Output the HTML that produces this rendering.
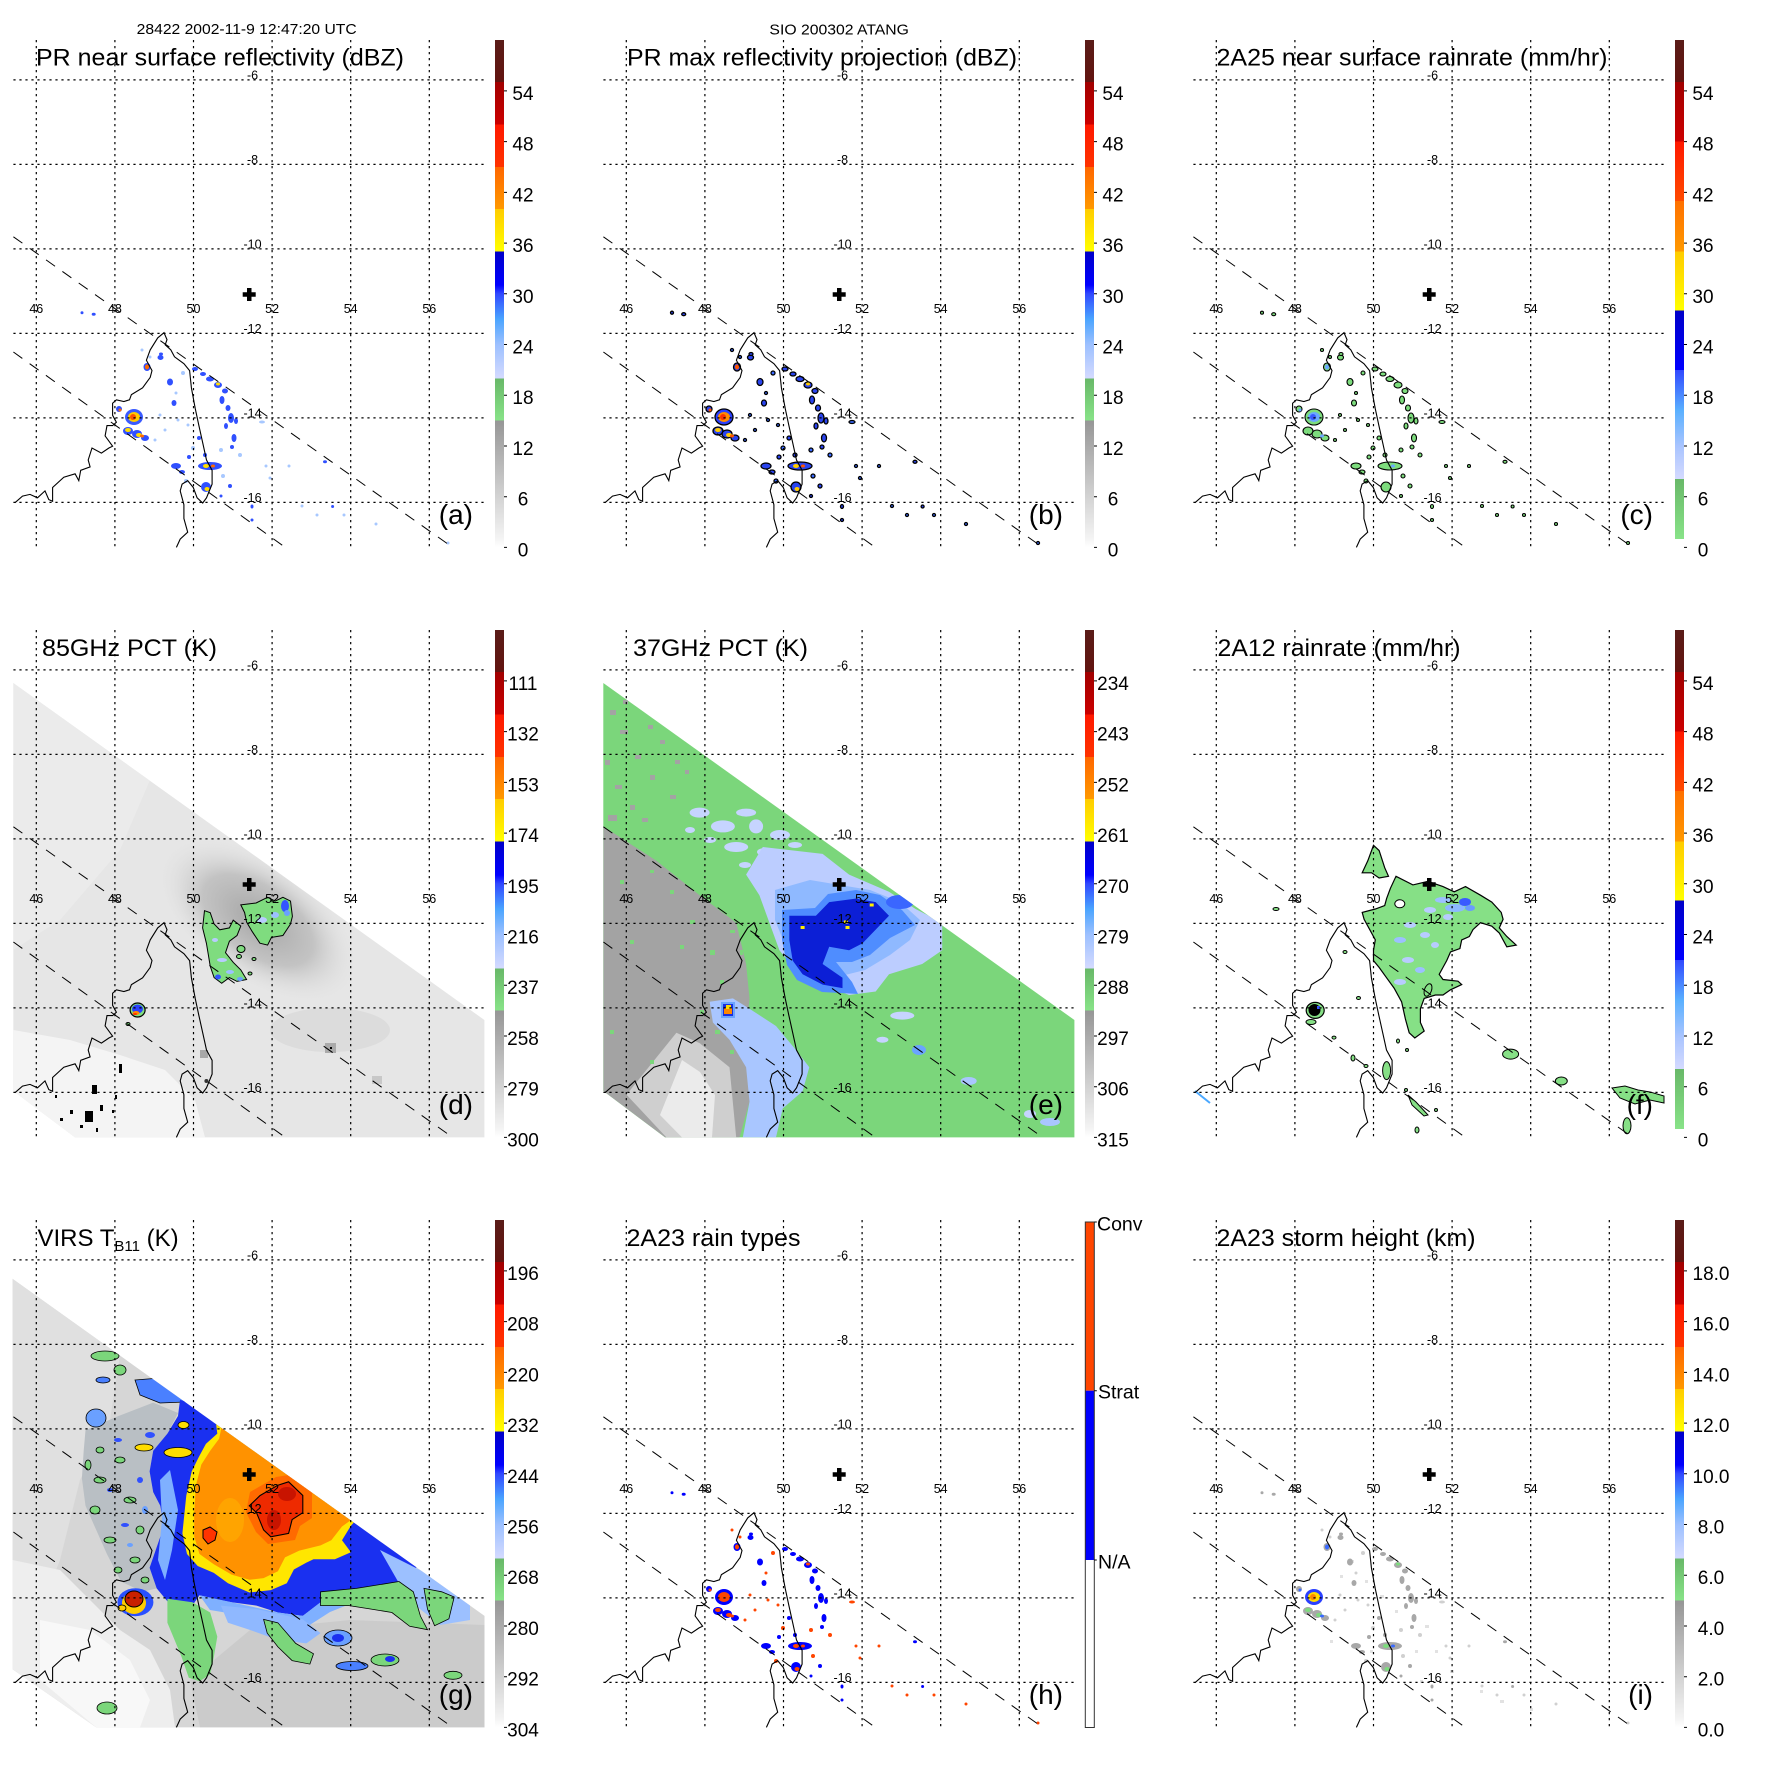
<!DOCTYPE html>
<html><head><meta charset="utf-8">
<style>
html,body{margin:0;padding:0;background:#fff}
svg{display:block}
text{font-family:"Liberation Sans",Arial,Helvetica,sans-serif;fill:#000}
.ll{font-size:12.5px;text-anchor:middle}
.cb{font-size:19px;text-anchor:middle}
.cbl{font-size:19.5px}
.tt{font-size:24px}
.pl{font-size:28px;text-anchor:end}
.hd{font-size:15px;text-anchor:middle}
.mo{fill:var(--mo);stroke:var(--ks,none);stroke-width:var(--kw,0)}
.mm{fill:var(--mm)}
.mi{fill:var(--mi)}
.k1{fill:var(--k1);stroke:var(--ks,none);stroke-width:var(--kw,0)}
.k2{fill:var(--k2)}
.k3{fill:var(--k3);stroke:var(--ks,none);stroke-width:var(--kw,0)}
.k4{fill:var(--k4)}
</style></head><body>
<svg width="1771" height="1771" viewBox="0 0 1771 1771" xmlns="http://www.w3.org/2000/svg">
<defs>
<linearGradient id="gS" x1="0" y1="1" x2="0" y2="0">
<stop offset="0" stop-color="#ffffff"/><stop offset=".017" stop-color="#f4f4f4"/><stop offset=".25" stop-color="#969696"/>
<stop offset=".25" stop-color="#88e388"/><stop offset=".333" stop-color="#68b868"/>
<stop offset=".333" stop-color="#d4daff"/><stop offset=".4" stop-color="#9cc0ff"/><stop offset=".45" stop-color="#4aa4ff"/><stop offset=".5" stop-color="#3048ff"/><stop offset=".517" stop-color="#0000ff"/><stop offset=".583" stop-color="#0000c8"/>
<stop offset=".583" stop-color="#ffff00"/><stop offset=".667" stop-color="#ffcc00"/>
<stop offset=".667" stop-color="#ff9900"/><stop offset=".75" stop-color="#ff6600"/>
<stop offset=".75" stop-color="#ff3300"/><stop offset=".833" stop-color="#ff1800"/>
<stop offset=".833" stop-color="#cc0000"/><stop offset=".917" stop-color="#a00000"/>
<stop offset=".917" stop-color="#621410"/><stop offset="1" stop-color="#5a1c18"/>
</linearGradient>
<linearGradient id="gR" x1="0" y1="1" x2="0" y2="0">
<stop offset="0" stop-color="#ffffff"/><stop offset=".017" stop-color="#ffffff"/>
<stop offset=".017" stop-color="#88e388"/><stop offset=".135" stop-color="#68b868"/>
<stop offset=".135" stop-color="#d4daff"/><stop offset=".2" stop-color="#a8c4ff"/><stop offset=".27" stop-color="#5ab0ff"/><stop offset=".35" stop-color="#3048ff"/>
<stop offset=".35" stop-color="#0000ff"/><stop offset=".467" stop-color="#0000c8"/>
<stop offset=".467" stop-color="#ffff00"/><stop offset=".583" stop-color="#ffcc00"/>
<stop offset=".583" stop-color="#ff9900"/><stop offset=".683" stop-color="#ff7000"/>
<stop offset=".683" stop-color="#ff4a00"/><stop offset=".8" stop-color="#ff1800"/>
<stop offset=".8" stop-color="#cc0000"/><stop offset=".917" stop-color="#a00000"/>
<stop offset=".917" stop-color="#621410"/><stop offset="1" stop-color="#5a1c18"/>
</linearGradient>
<radialGradient id="rgD">
<stop offset="0" stop-color="#a4a4a4"/><stop offset=".55" stop-color="#bdbdbd" stop-opacity=".85"/><stop offset="1" stop-color="#e5e5e5" stop-opacity="0"/>
</radialGradient>
<clipPath id="cT"><polygon points="13.3,93 484.4,430 484.4,547.4 75,547.4 13.3,501"/></clipPath>
<clipPath id="cV"><polygon points="12.5,98.8 484.5,435.9 484.5,547.4 96.2,547.4 12.5,489.2"/></clipPath>
<clipPath id="cM"><rect x="13.4" y="40" width="472.1" height="507.4"/></clipPath>

<g id="cm">
<path d="M15,502.7L22.5,496.1L30,494.4L37.5,497.8L45,490.9L48.8,499.6L52.6,501.3L52.6,487.5L63.8,477.2L75.1,473.8L78.8,480.6L80.7,470.3L90.1,466.9L88.2,460L92,448L101.4,453.1L108.9,448L112.6,446.2L105.1,435.9L107,425.6L112.6,425.6L116.4,422.2L112.6,415.3L112.6,403.2L116.4,399.8L123.9,401.5L129.5,399.8L131.4,394.6L142.6,387.8L150.2,377.4L152,370.6L146.4,360.2L150.2,349.9L157.7,337.9L164,332.7L167,339.6L165.2,344.8L170.8,349.9L174.5,356.8L183.9,363.7L189.6,370.6L191.4,387.8L195.2,408.4L198.9,425.6L202.7,442.8L206.5,460L212.1,470.3L212.1,484.1L206.5,497.8L202.7,503L197.1,497.8L193.3,487.5L187.7,480.6L182.1,484.1L180.2,490.9L183.9,504.7L183.9,518.5L187.7,532.2L180.2,539.1L176.4,547.4" fill="none" stroke="#000" stroke-width="1.1"/>
<path d="M13.4,236.8L450,545.5M13.4,352L285.3,547.4" fill="none" stroke="#000" stroke-width="1" stroke-dasharray="11 9"/>
<path d="M36.3,40V547.4M114.9,40V547.4M193.5,40V547.4M272.1,40V547.4M350.7,40V547.4M429.3,40V547.4M13.4,79.9H485.5M13.4,164.4H485.5M13.4,248.9H485.5M13.4,333.4H485.5M13.4,417.9H485.5M13.4,502.4H485.5" fill="none" stroke="#000" stroke-width="1.2" stroke-dasharray="2.2 3.8"/>
<path d="M242.7,292.3h13v4.5h-13zM247,288h4.5v13h-4.5z" fill="#000"/>
</g>
<path id="tk" d="M504,547.4h3M504,496.7h3M504,446h3M504,395.2h3M504,344.5h3M504,293.8h3M504,243.1h3M504,192.4h3M504,141.6h3M504,90.9h3" stroke="#000" stroke-width="1"/>

<g id="cells">
<ellipse class="mo" cx="134" cy="417" rx="9" ry="8"/><ellipse class="mm" cx="134" cy="417" rx="6" ry="5"/><ellipse class="mi" cx="133" cy="417" rx="3" ry="3"/>
<ellipse class="k1" cx="128" cy="431" rx="5" ry="4"/><ellipse class="k1" cx="137" cy="434" rx="5" ry="4"/><ellipse class="k1" cx="145" cy="438" rx="4" ry="3"/>
<ellipse class="k2" cx="128" cy="430" rx="3" ry="2"/><ellipse class="k2" cx="139" cy="435" rx="3" ry="2"/><ellipse class="k4" cx="142" cy="436" rx="2" ry="1.5"/>
<ellipse class="k1" cx="147" cy="367" rx="3.5" ry="4"/><ellipse class="k4" cx="147" cy="367" rx="2" ry="2.5"/>
<ellipse class="k1" cx="119" cy="409" rx="3" ry="3"/><ellipse class="k4" cx="120" cy="410" rx="1.5" ry="1.5"/>
<ellipse class="k1" cx="160.5" cy="357.5" rx="3" ry="2.5"/><ellipse class="k1" cx="170" cy="382" rx="3" ry="3.5"/><ellipse class="k1" cx="174" cy="403" rx="2.5" ry="3"/>
<ellipse class="k3" cx="183" cy="373" rx="2" ry="2"/><ellipse class="k3" cx="176" cy="393" rx="1.5" ry="1.5"/>
<ellipse class="k1" cx="195" cy="369" rx="3" ry="2"/><ellipse class="k1" cx="203" cy="374" rx="3" ry="2"/><ellipse class="k1" cx="210" cy="379" rx="4" ry="2.5"/><ellipse class="k1" cx="218" cy="385" rx="4" ry="3"/><ellipse class="k2" cx="218" cy="384" rx="2" ry="1.5"/><ellipse class="k1" cx="225" cy="391" rx="3" ry="2.5"/>
<ellipse class="k1" cx="222" cy="400" rx="2.5" ry="4"/><ellipse class="k1" cx="228" cy="408" rx="2.5" ry="3"/><ellipse class="k1" cx="231" cy="418" rx="3" ry="5"/><ellipse class="k1" cx="226" cy="426" rx="2" ry="3"/><ellipse class="k1" cx="236" cy="421" rx="2" ry="3"/>
<ellipse class="k1" cx="210" cy="466" rx="12" ry="4"/><ellipse class="k2" cx="206" cy="466" rx="3" ry="2"/><ellipse class="k4" cx="213" cy="466" rx="2" ry="1.5"/>
<ellipse class="k1" cx="206" cy="487" rx="5" ry="5"/><ellipse class="k2" cx="207" cy="489" rx="2.5" ry="2"/>
<ellipse class="k1" cx="176" cy="466" rx="5" ry="3"/><ellipse class="k1" cx="182" cy="472" rx="3" ry="2"/><ellipse class="k1" cx="189" cy="457" rx="2" ry="2"/><ellipse class="k3" cx="186" cy="481" rx="2" ry="2"/>
<ellipse class="k1" cx="234" cy="438" rx="2.5" ry="4"/><ellipse class="k1" cx="232" cy="447" rx="2" ry="2"/>
<ellipse class="k1" cx="199" cy="438" rx="2" ry="2"/><ellipse class="k3" cx="193" cy="448" rx="2" ry="2"/><ellipse class="k1" cx="205" cy="455" rx="2" ry="2"/><ellipse class="k3" cx="221" cy="450" rx="2" ry="2"/><ellipse class="k3" cx="240" cy="455" rx="2" ry="2"/><ellipse class="k3" cx="223" cy="476" rx="2" ry="2"/><ellipse class="k1" cx="230" cy="486" rx="2" ry="2"/><ellipse class="k1" cx="221" cy="496" rx="1.5" ry="1.5"/>
<ellipse class="k3" cx="178" cy="420" rx="1.5" ry="1.5"/><ellipse class="k3" cx="165" cy="430" rx="1.5" ry="1.5"/><ellipse class="k3" cx="188" cy="425" rx="1.5" ry="1.5"/><ellipse class="k3" cx="155" cy="440" rx="1.5" ry="1.5"/><ellipse class="k3" cx="160" cy="415" rx="1.5" ry="1.5"/>
<ellipse class="k1" cx="82" cy="312.7" rx="1.5" ry="1.5"/><ellipse class="k1" cx="93.7" cy="314.2" rx="2" ry="1.5"/>
<ellipse class="k1" cx="252" cy="506.5" rx="1.5" ry="2"/><ellipse class="k1" cx="325" cy="461.8" rx="2" ry="1.5"/><ellipse class="k1" cx="332.6" cy="506.5" rx="1.5" ry="1.5"/><ellipse class="k1" cx="252" cy="520" rx="1.5" ry="1.5"/>
<ellipse class="k3" cx="302" cy="506" rx="1.5" ry="1.5"/><ellipse class="k3" cx="317" cy="515" rx="1.5" ry="1.5"/><ellipse class="k3" cx="344" cy="515" rx="1.5" ry="1.5"/><ellipse class="k3" cx="376" cy="524" rx="1.5" ry="1.5"/><ellipse class="k3" cx="266" cy="466" rx="1.5" ry="1.5"/><ellipse class="k3" cx="270" cy="478" rx="1.5" ry="1.5"/><ellipse class="k3" cx="289" cy="466" rx="1.5" ry="1.5"/><ellipse class="k3" cx="262" cy="422" rx="3" ry="1.5"/><ellipse class="k3" cx="142" cy="350" rx="1.5" ry="1.5"/><ellipse class="k3" cx="150" cy="357" rx="1.5" ry="1.5"/><ellipse class="k1" cx="161" cy="354" rx="2" ry="1.5"/><ellipse class="k3" cx="448" cy="543" rx="1.5" ry="1.5"/>
</g>
</defs>

<!-- headers -->
<text class="hd" x="246.7" y="34" textLength="220" lengthAdjust="spacingAndGlyphs">28422 2002-11-9 12:47:20 UTC</text>
<text class="hd" x="839.2" y="34.5" textLength="139.5" lengthAdjust="spacingAndGlyphs">SIO 200302 ATANG</text>

<!-- ===== (a) ===== -->
<g transform="translate(0,0)">
<use href="#cells" style="--mo:#3a5aff;--mm:#ffcc00;--mi:#ff5500;--k1:#3050ff;--k2:#ffdd00;--k3:#a8c8ff;--k4:#ff6a00"/>
<use href="#cm"/>
<g class="ll"><text x="252.5" y="79.5">-6</text><text x="252.5" y="164">-8</text><text x="252.5" y="248.5">-10</text><text x="252.5" y="333">-12</text><text x="252.5" y="417.5">-14</text><text x="252.5" y="502">-16</text><text x="36.3" y="313">46</text><text x="114.9" y="313">48</text><text x="193.5" y="313">50</text><text x="272.1" y="313">52</text><text x="350.7" y="313">54</text><text x="429.3" y="313">56</text></g>
<rect x="495" y="40" width="9" height="507.4" fill="url(#gS)"/><use href="#tk"/>
<g class="cb"><text x="523" y="556.4">0</text><text x="523" y="505.7">6</text><text x="523" y="455">12</text><text x="523" y="404.2">18</text><text x="523" y="353.5">24</text><text x="523" y="302.8">30</text><text x="523" y="252.1">36</text><text x="523" y="201.4">42</text><text x="523" y="150.6">48</text><text x="523" y="99.9">54</text></g>
<text class="tt" x="36" y="65.5" textLength="368" lengthAdjust="spacingAndGlyphs">PR near surface reflectivity (dBZ)</text>
<text class="pl" x="473" y="524">(a)</text>
</g>

<!-- ===== (b) ===== -->
<g transform="translate(590,0)">
<use href="#cells" style="--mo:#2a40ff;--mm:#ff8c00;--mi:#ff3300;--k1:#2a44ee;--k2:#ffcc00;--k3:#3a6aff;--k4:#ff5500;--ks:#000;--kw:1.3px"/>
<use href="#cm"/>
<g class="ll"><text x="252.5" y="79.5">-6</text><text x="252.5" y="164">-8</text><text x="252.5" y="248.5">-10</text><text x="252.5" y="333">-12</text><text x="252.5" y="417.5">-14</text><text x="252.5" y="502">-16</text><text x="36.3" y="313">46</text><text x="114.9" y="313">48</text><text x="193.5" y="313">50</text><text x="272.1" y="313">52</text><text x="350.7" y="313">54</text><text x="429.3" y="313">56</text></g>
<rect x="495" y="40" width="9" height="507.4" fill="url(#gS)"/><use href="#tk"/>
<g class="cb"><text x="523" y="556.4">0</text><text x="523" y="505.7">6</text><text x="523" y="455">12</text><text x="523" y="404.2">18</text><text x="523" y="353.5">24</text><text x="523" y="302.8">30</text><text x="523" y="252.1">36</text><text x="523" y="201.4">42</text><text x="523" y="150.6">48</text><text x="523" y="99.9">54</text></g>
<text class="tt" x="37" y="65.5" textLength="390" lengthAdjust="spacingAndGlyphs">PR max reflectivity projection (dBZ)</text>
<text class="pl" x="473" y="524">(b)</text>
</g>

<!-- ===== (c) ===== -->
<g transform="translate(1180,0)">
<use href="#cells" style="--mo:#7ddc7d;--mm:#6aa8ff;--mi:#3a5aff;--k1:#7ddc7d;--k2:#7ddc7d;--k3:#7ddc7d;--k4:#6aa8ff;--ks:#000;--kw:1.1px"/>
<use href="#cm"/>
<g class="ll"><text x="252.5" y="79.5">-6</text><text x="252.5" y="164">-8</text><text x="252.5" y="248.5">-10</text><text x="252.5" y="333">-12</text><text x="252.5" y="417.5">-14</text><text x="252.5" y="502">-16</text><text x="36.3" y="313">46</text><text x="114.9" y="313">48</text><text x="193.5" y="313">50</text><text x="272.1" y="313">52</text><text x="350.7" y="313">54</text><text x="429.3" y="313">56</text></g>
<rect x="495" y="40" width="9" height="507.4" fill="url(#gR)"/><use href="#tk"/>
<g class="cb"><text x="523" y="556.4">0</text><text x="523" y="505.7">6</text><text x="523" y="455">12</text><text x="523" y="404.2">18</text><text x="523" y="353.5">24</text><text x="523" y="302.8">30</text><text x="523" y="252.1">36</text><text x="523" y="201.4">42</text><text x="523" y="150.6">48</text><text x="523" y="99.9">54</text></g>
<text class="tt" x="36.5" y="65.5" textLength="391" lengthAdjust="spacingAndGlyphs">2A25 near surface rainrate (mm/hr)</text>
<text class="pl" x="473" y="524">(c)</text>
</g>

<!-- ===== (d) ===== -->
<g transform="translate(0,590)">
<g clip-path="url(#cT)">
<rect x="0" y="0" width="500" height="560" fill="#e6e6e6"/>
<polygon points="13.3,93 150,190 120,260 60,330 13.3,360" fill="#ebebeb"/>
<ellipse cx="258" cy="330" rx="115" ry="62" fill="url(#rgD)" transform="rotate(35 258 330)"/>
<ellipse cx="330" cy="440" rx="60" ry="22" fill="#dcdcdc"/>
<polygon points="13.4,440 70,450 120,465 165,480 195,510 205,547.4 13.4,547.4" fill="#f4f4f4"/>
<rect x="325" y="453" width="11" height="10" fill="#aaa"/><rect x="330" y="457" width="2" height="2" fill="#000"/>
<rect x="372" y="486" width="10" height="8" fill="#c8c8c8"/>
<rect x="200" y="460" width="8" height="8" fill="#a8a8a8"/><ellipse cx="206.4" cy="491" rx="2" ry="2" fill="#333"/>
<rect x="119" y="474" width="3" height="9"/><rect x="92" y="495" width="5" height="9"/><rect x="85" y="521" width="8" height="11"/><rect x="100" y="515" width="3" height="6"/><rect x="70" y="520" width="3" height="4"/><rect x="55" y="505" width="2" height="3"/><rect x="60" y="528" width="3" height="3"/><rect x="115" y="505" width="2" height="4"/><rect x="112" y="520" width="2" height="3"/><rect x="80" y="535" width="3" height="3"/><rect x="96" y="538" width="2" height="4"/>
<polygon points="204.5,320.7 210.2,322.6 214.1,334 219.8,339.8 229.4,337.9 233.2,330.2 240.8,336 237,345.5 229.4,351.2 225.5,362.7 233.2,372.3 240.8,379.9 246.6,389.5 237,391.4 229.4,387.6 221.7,393.3 214.1,387.6 210.2,376.1 208.3,364.6 206.4,353.2 202.6,337.9" fill="#7fdc7f" stroke="#000" stroke-width="1"/>
<polygon points="240.8,314.9 256.1,313 267.6,307.3 275.2,311.1 282.9,307.3 290.5,311.1 292.4,326.4 290.5,334 282.9,345.5 271.4,347.4 267.6,355.1 259.9,353.2 252.3,341.7 246.6,332.1 244.6,322.6" fill="#7fdc7f" stroke="#000" stroke-width="1"/>
<ellipse cx="285" cy="316" rx="4" ry="6" fill="#3355ff"/><ellipse cx="287" cy="323" rx="3" ry="3" fill="#6aa0ff"/><ellipse cx="262" cy="330" rx="5" ry="3" fill="#b8ccff"/><ellipse cx="275" cy="325" rx="4" ry="3" fill="#9cc0ff"/>
<ellipse cx="218" cy="387" rx="3" ry="2.5" fill="#3355ff"/><ellipse cx="222" cy="370" rx="5" ry="2" fill="#b8ccff"/><ellipse cx="230" cy="382" rx="4" ry="2" fill="#9cc0ff"/><ellipse cx="215" cy="350" rx="3" ry="2" fill="#b8ccff"/><ellipse cx="240" cy="389" rx="3" ry="2" fill="#6aa0ff"/>
<ellipse cx="241" cy="359" rx="4" ry="3.5" fill="#7fdc7f" stroke="#000"/><ellipse cx="239" cy="366.5" rx="2.5" ry="2" fill="#7fdc7f" stroke="#000"/><ellipse cx="254" cy="369" rx="2" ry="1.5" fill="#7fdc7f" stroke="#000"/><ellipse cx="250" cy="383.5" rx="2" ry="1.5" fill="#7fdc7f" stroke="#000"/>
<ellipse cx="137.6" cy="420" rx="7.5" ry="7" fill="#7fdc7f" stroke="#000" stroke-width="1.2"/><ellipse cx="137.5" cy="419" rx="5.5" ry="4.5" fill="#2a40ff"/><ellipse cx="136" cy="423" rx="3.5" ry="2" fill="#ff8800"/><ellipse cx="135" cy="424" rx="2" ry="1" fill="#ff3300"/>
<ellipse cx="128" cy="434" rx="2" ry="1.5" fill="#7fdc7f" stroke="#000"/>
</g>
<use href="#cm"/>
<g class="ll"><text x="252.5" y="79.5">-6</text><text x="252.5" y="164">-8</text><text x="252.5" y="248.5">-10</text><text x="252.5" y="333">-12</text><text x="252.5" y="417.5">-14</text><text x="252.5" y="502">-16</text><text x="36.3" y="313">46</text><text x="114.9" y="313">48</text><text x="193.5" y="313">50</text><text x="272.1" y="313">52</text><text x="350.7" y="313">54</text><text x="429.3" y="313">56</text></g>
<rect x="495" y="40" width="9" height="507.4" fill="url(#gS)"/><use href="#tk"/>
<g class="cb"><text x="523" y="556.4">300</text><text x="523" y="505.7">279</text><text x="523" y="455">258</text><text x="523" y="404.2">237</text><text x="523" y="353.5">216</text><text x="523" y="302.8">195</text><text x="523" y="252.1">174</text><text x="523" y="201.4">153</text><text x="523" y="150.6">132</text><text x="523" y="99.9">111</text></g>
<text class="tt" x="42" y="66" textLength="175" lengthAdjust="spacingAndGlyphs">85GHz PCT (K)</text>
<text class="pl" x="473" y="524">(d)</text>
</g>

<!-- ===== (e) ===== -->
<g transform="translate(590,590)">
<g clip-path="url(#cT)">
<rect x="0" y="0" width="500" height="560" fill="#7bd67b"/>
<rect x="20" y="120" width="6" height="5" fill="#a3a3a3"/><rect x="30" y="140" width="8" height="4" fill="#a3a3a3"/><rect x="15" y="170" width="5" height="5" fill="#a3a3a3"/><rect x="45" y="165" width="6" height="4" fill="#a3a3a3"/><rect x="25" y="195" width="7" height="4" fill="#a3a3a3"/><rect x="60" y="185" width="5" height="5" fill="#a3a3a3"/><rect x="80" y="205" width="6" height="4" fill="#a3a3a3"/><rect x="40" y="215" width="5" height="5" fill="#a3a3a3"/><rect x="95" y="180" width="4" height="4" fill="#a3a3a3"/><rect x="70" y="150" width="5" height="4" fill="#a3a3a3"/><rect x="18" y="225" width="9" height="6" fill="#a3a3a3"/><rect x="52" y="228" width="6" height="4" fill="#a3a3a3"/><rect x="33" y="110" width="5" height="4" fill="#a3a3a3"/><rect x="58" y="135" width="5" height="4" fill="#a3a3a3"/><rect x="85" y="170" width="5" height="4" fill="#a3a3a3"/>
<polygon points="13.3,236.4 66.4,270.8 109.6,305.2 146.2,332.7 156.1,374 159.5,408.4 156.1,442.8 166.1,477.2 159.5,511.6 149.5,547.4 75,547.4 13.3,501" fill="#a3a3a3"/>
<polygon points="36.5,504.7 86.4,442.8 109.6,453.1 139.5,477.2 146.2,547.4 76.4,547.4" fill="#cfcfcf"/>
<polygon points="70,525 92,470 110,482 125,505 122,547.4 92,547.4" fill="#ebebeb"/>
<rect x="100" y="330" width="5" height="4" fill="#7bd67b"/><rect x="80" y="300" width="4" height="4" fill="#7bd67b"/><rect x="120" y="360" width="5" height="5" fill="#7bd67b"/><rect x="60" y="280" width="4" height="3" fill="#7bd67b"/><rect x="130" y="390" width="4" height="4" fill="#7bd67b"/><rect x="140" y="340" width="5" height="3" fill="#7bd67b"/><rect x="90" y="355" width="4" height="4" fill="#7bd67b"/><rect x="40" y="350" width="4" height="4" fill="#7bd67b"/><rect x="110" y="420" width="4" height="4" fill="#7bd67b"/><rect x="150" y="360" width="3" height="5" fill="#7bd67b"/><rect x="30" y="290" width="4" height="4" fill="#7bd67b"/><rect x="125" y="440" width="5" height="4" fill="#7bd67b"/><rect x="140" y="460" width="4" height="4" fill="#7bd67b"/><rect x="60" y="470" width="4" height="4" fill="#7bd67b"/><rect x="20" y="440" width="4" height="4" fill="#7bd67b"/>
<polygon points="119.6,411.8 142.9,408.4 159.5,418.7 186,436 206,460 219.3,477.2 212.6,501.3 192.7,518.5 186,547.4 152.8,547.4 159.5,511.6 156.1,477.2 139.5,449.7 122.9,432.5" fill="#a9c6ff"/>
<ellipse cx="109.6" cy="222.6" rx="10" ry="5" fill="#c6d4ff"/><ellipse cx="132.9" cy="236.4" rx="12" ry="6" fill="#c6d4ff"/><ellipse cx="156.1" cy="222.6" rx="10" ry="4" fill="#c6d4ff"/><ellipse cx="146.2" cy="257" rx="12" ry="5" fill="#c6d4ff"/><ellipse cx="166.1" cy="236.4" rx="7" ry="7" fill="#c6d4ff"/><ellipse cx="190" cy="245" rx="10" ry="5" fill="#c6d4ff"/><ellipse cx="120" cy="250" rx="6" ry="3" fill="#c6d4ff"/><ellipse cx="100" cy="240" rx="5" ry="3" fill="#c6d4ff"/><ellipse cx="175" cy="262" rx="8" ry="4" fill="#c6d4ff"/><ellipse cx="155" cy="275" rx="6" ry="3" fill="#c6d4ff"/><ellipse cx="205" cy="255" rx="7" ry="3" fill="#c6d4ff"/>
<polygon points="172.8,257 232.6,263.9 259.1,284.6 299,301.8 325.6,319 352.2,332.7 352.2,360.2 332.2,374 299,384.3 285.7,401.5 259.1,405 232.6,394.6 206,380.9 189.4,360.2 179.4,332.7 169.4,305.2 156.1,284.6" fill="#bccdff"/>
<polygon points="185,300 220,290 250,295 280,300 310,312 330,330 320,350 300,365 275,380 255,385 240,375 215,370 195,355 185,330" fill="#8fb9ff"/>
<polygon points="192,320 225,318 238,304 266,300 290,305 312,320 325,335 300,348 280,365 262,372 246,372 262,392 268,404 232,402 207,390 197,375 192,350" fill="#4f8dff"/>
<polygon points="199.3,325.8 225.9,325.8 239.2,312.1 265.8,308.6 285.7,312.1 299,325.8 285.7,339.6 272.4,353.4 259.1,360.2 239.2,356.8 232.6,374 252.5,387.8 252.5,398.1 232.6,394.6 212.6,384.3 202.7,370.6 199.3,349.9" fill="#0c1fd6"/>
<ellipse cx="310" cy="312" rx="14" ry="7" fill="#3a66ff"/>
<rect x="210.6" y="336" width="4" height="3" fill="#ffee00"/><rect x="253.8" y="330.5" width="4" height="3" fill="#ffee00"/><rect x="255.5" y="336" width="4" height="3" fill="#ffee00"/><rect x="279.7" y="313.5" width="4" height="3" fill="#ffee00"/>
<rect x="131" y="412" width="14" height="16" fill="#6aa4ff"/><rect x="133" y="414" width="10" height="12" fill="#1a2fe0"/><rect x="134" y="418" width="8" height="6" fill="#ff8800"/><rect x="136" y="415" width="5" height="4" fill="#ffdd00"/>
<ellipse cx="329" cy="460" rx="7" ry="5" fill="#6aa4ff"/><ellipse cx="378.7" cy="491" rx="8" ry="4" fill="#a9c6ff"/><ellipse cx="292.4" cy="449.7" rx="6" ry="3" fill="#c6d4ff"/><ellipse cx="312.3" cy="425.6" rx="12" ry="4" fill="#c6d4ff"/><ellipse cx="460" cy="532" rx="10" ry="4" fill="#a9c6ff"/><ellipse cx="440" cy="524" rx="6" ry="4" fill="#c6d4ff"/>
</g>
<use href="#cm"/>
<g class="ll"><text x="252.5" y="79.5">-6</text><text x="252.5" y="164">-8</text><text x="252.5" y="248.5">-10</text><text x="252.5" y="333">-12</text><text x="252.5" y="417.5">-14</text><text x="252.5" y="502">-16</text><text x="36.3" y="313">46</text><text x="114.9" y="313">48</text><text x="193.5" y="313">50</text><text x="272.1" y="313">52</text><text x="350.7" y="313">54</text><text x="429.3" y="313">56</text></g>
<rect x="495" y="40" width="9" height="507.4" fill="url(#gS)"/><use href="#tk"/>
<g class="cb"><text x="523" y="556.4">315</text><text x="523" y="505.7">306</text><text x="523" y="455">297</text><text x="523" y="404.2">288</text><text x="523" y="353.5">279</text><text x="523" y="302.8">270</text><text x="523" y="252.1">261</text><text x="523" y="201.4">252</text><text x="523" y="150.6">243</text><text x="523" y="99.9">234</text></g>
<text class="tt" x="43" y="66" textLength="175" lengthAdjust="spacingAndGlyphs">37GHz PCT (K)</text>
<text class="pl" x="473" y="524">(e)</text>
</g>

<!-- ===== (f) ===== -->
<g transform="translate(1180,590)">
<g clip-path="url(#cM)">
<polygon points="216,286.3 232.9,294.9 247.9,291.4 263,296.6 274.2,301.8 285.5,296.6 300.5,305.2 311.8,312.1 321.2,322.4 323.1,329.3 319.3,337.9 326.8,346.5 336.2,355.1 326.8,356.8 319.3,343 311.8,336.2 300.5,332.7 293,339.6 289.3,346.5 281.7,349.9 279.9,358.5 270.5,362 266.7,370.6 263,377.4 259.2,384.3 263,389.5 278,391.2 281.7,394.6 270.5,399.8 263,405 255.4,405 244.2,408.4 240.4,418.7 240.4,432.5 244.2,441.1 234.8,448 229.2,442.8 225.4,429 221.6,411.8 214.1,398.1 206.6,387.8 199.1,377.4 193.5,370.6 193.5,360.2 195.3,349.9 184.1,329.3 182.2,322.4 195.3,319 204.7,315.5 206.6,308.6 210.4,298.3" fill="#86e086" stroke="#000" stroke-width="1.2"/>
<polygon points="193.5,255.3 199.1,260.5 204.7,277.7 208.5,286.3 199.1,288 191.6,282.8 182.2,282.8 187.8,270.8 191.6,260.5" fill="#86e086" stroke="#000" stroke-width="1.2"/>
<ellipse cx="263" cy="310" rx="8" ry="3" fill="#9cc0ff"/><ellipse cx="275" cy="318" rx="10" ry="4" fill="#8cb8ff"/><ellipse cx="285" cy="312" rx="6" ry="4" fill="#3a5aff"/><ellipse cx="290" cy="318" rx="5" ry="3" fill="#6a9aff"/><ellipse cx="250" cy="320" rx="6" ry="3" fill="#b8ccff"/><ellipse cx="230" cy="335" rx="6" ry="3" fill="#b8ccff"/><ellipse cx="220" cy="350" rx="6" ry="3" fill="#9cc0ff"/><ellipse cx="245" cy="345" rx="5" ry="3" fill="#b8ccff"/><ellipse cx="268" cy="327" rx="5" ry="3" fill="#b8ccff"/><ellipse cx="228" cy="370" rx="6" ry="3" fill="#b8ccff"/><ellipse cx="240" cy="380" rx="5" ry="3" fill="#9cc0ff"/><ellipse cx="220" cy="392" rx="6" ry="3" fill="#b8ccff"/><ellipse cx="255" cy="355" rx="4" ry="3" fill="#b8ccff"/>
<ellipse cx="219.8" cy="313.8" rx="5" ry="4" fill="#fff" stroke="#000"/>
<ellipse cx="248" cy="400" rx="3.5" ry="6.5" fill="none" stroke="#000" transform="rotate(20 248 400)"/>
<ellipse cx="135.2" cy="420.4" rx="9" ry="8" fill="#86e086" stroke="#000" stroke-width="1.2"/><ellipse cx="134.5" cy="420" rx="6" ry="6" fill="#000"/><rect x="137" y="416" width="3" height="3" fill="#3a5aff"/>
<ellipse cx="131" cy="432" rx="5" ry="2.5" fill="#86e086" stroke="#000"/>
<ellipse cx="330.6" cy="464.1" rx="8" ry="5" fill="#86e086" stroke="#000"/><ellipse cx="381.3" cy="491" rx="6" ry="4" fill="#86e086" stroke="#000"/>
<polygon points="432,498 445,496 458,500 470,502 484,506 484,513 470,510 455,514 440,508" fill="#86e086" stroke="#000"/>
<ellipse cx="447" cy="535.7" rx="4" ry="8" fill="#86e086" stroke="#000"/>
<ellipse cx="206.6" cy="480.6" rx="4" ry="9" fill="#86e086" stroke="#000"/>
<polygon points="228,505 236,512 248,525 244,526 232,515" fill="#86e086" stroke="#000"/>
<ellipse cx="165" cy="362" rx="2" ry="1.5" fill="#86e086" stroke="#000"/><ellipse cx="178.5" cy="408" rx="2" ry="1.5" fill="#86e086" stroke="#000"/><ellipse cx="154" cy="447.6" rx="2" ry="1.5" fill="#86e086" stroke="#000"/><ellipse cx="173" cy="468" rx="2" ry="3" fill="#86e086" stroke="#000"/><ellipse cx="186" cy="476" rx="2" ry="1.5" fill="#86e086" stroke="#000"/><ellipse cx="218" cy="451" rx="1.5" ry="2" fill="#86e086" stroke="#000"/><ellipse cx="227" cy="460" rx="1.5" ry="1.5" fill="#86e086" stroke="#000"/><ellipse cx="237" cy="540" rx="2" ry="3" fill="#86e086" stroke="#000"/><ellipse cx="226" cy="500" rx="1.5" ry="1.5" fill="#86e086" stroke="#000"/><ellipse cx="256" cy="520" rx="1.5" ry="1.5" fill="#86e086" stroke="#000"/><ellipse cx="96" cy="319" rx="3" ry="1.5" fill="#86e086" stroke="#000"/>
<line x1="15" y1="501" x2="30" y2="513" stroke="#4aa8ff" stroke-width="2"/>
</g>
<use href="#cm"/>
<g class="ll"><text x="252.5" y="79.5">-6</text><text x="252.5" y="164">-8</text><text x="252.5" y="248.5">-10</text><text x="252.5" y="333">-12</text><text x="252.5" y="417.5">-14</text><text x="252.5" y="502">-16</text><text x="36.3" y="313">46</text><text x="114.9" y="313">48</text><text x="193.5" y="313">50</text><text x="272.1" y="313">52</text><text x="350.7" y="313">54</text><text x="429.3" y="313">56</text></g>
<rect x="495" y="40" width="9" height="507.4" fill="url(#gR)"/><use href="#tk"/>
<g class="cb"><text x="523" y="556.4">0</text><text x="523" y="505.7">6</text><text x="523" y="455">12</text><text x="523" y="404.2">18</text><text x="523" y="353.5">24</text><text x="523" y="302.8">30</text><text x="523" y="252.1">36</text><text x="523" y="201.4">42</text><text x="523" y="150.6">48</text><text x="523" y="99.9">54</text></g>
<text class="tt" x="37.5" y="66" textLength="243" lengthAdjust="spacingAndGlyphs">2A12 rainrate (mm/hr)</text>
<text class="pl" x="473" y="524">(f)</text>
</g>

<!-- ===== (g) ===== -->
<g transform="translate(0,1180)">
<g clip-path="url(#cV)">
<rect x="0" y="0" width="500" height="560" fill="#d6d6d6"/>
<polygon points="12.5,98.8 120,175 110,240 80,300 60,380 40,430 12.5,440" fill="#e0e0e0"/>
<polygon points="12.5,380 60,390 90,420 120,450 150,470 170,510 175,547.4 96.2,547.4 12.5,489.2" fill="#eeeeee"/>
<polygon points="40,440 90,450 130,480 150,520 140,547.4 96.2,547.4 40,500" fill="#f8f8f8"/>
<polygon points="250,450 350,440 484.5,445 484.5,547.4 200,547.4 190,500" fill="#cbcbcb"/>
<polygon points="85.5,250.2 117.6,236.4 153.2,222.6 178.1,233 167.4,253.6 153.2,270.8 149.6,291.4 153.2,312.1 160.3,325.8 163.9,346.5 156.7,367.1 149.6,387.8 156.7,408.4 142.5,411.8 121.1,401.5 106.9,374 96.2,349.9 85.5,325.8 81.9,298.3 83.7,270.8" fill="#b9bfc4"/>
<ellipse cx="100" cy="300" rx="6" ry="3" fill="#7bd67b" stroke="#000" stroke-width=".8"/><ellipse cx="95" cy="330" rx="5" ry="4" fill="#7bd67b" stroke="#000" stroke-width=".8"/><ellipse cx="110" cy="360" rx="6" ry="3" fill="#7bd67b" stroke="#000" stroke-width=".8"/><ellipse cx="120" cy="280" rx="5" ry="3" fill="#7bd67b" stroke="#000" stroke-width=".8"/><ellipse cx="130" cy="320" rx="6" ry="3" fill="#7bd67b" stroke="#000" stroke-width=".8"/><ellipse cx="100" cy="270" rx="4" ry="3" fill="#7bd67b" stroke="#000" stroke-width=".8"/><ellipse cx="140" cy="350" rx="4" ry="4" fill="#7bd67b" stroke="#000" stroke-width=".8"/><ellipse cx="135" cy="380" rx="5" ry="3" fill="#7bd67b" stroke="#000" stroke-width=".8"/><ellipse cx="88" cy="285" rx="3" ry="5" fill="#7bd67b" stroke="#000" stroke-width=".8"/><ellipse cx="118" cy="390" rx="4" ry="3" fill="#7bd67b" stroke="#000" stroke-width=".8"/><ellipse cx="145" cy="400" rx="4" ry="3" fill="#7bd67b" stroke="#000" stroke-width=".8"/>
<ellipse cx="110" cy="310" rx="3" ry="2" fill="#3050ff"/><ellipse cx="125" cy="345" rx="4" ry="2" fill="#3050ff"/><ellipse cx="140" cy="300" rx="3" ry="3" fill="#3050ff"/><ellipse cx="118" cy="260" rx="4" ry="2" fill="#3050ff"/><ellipse cx="145" cy="330" rx="3" ry="4" fill="#6aa0ff"/><ellipse cx="130" cy="365" rx="3" ry="2" fill="#6aa0ff"/><ellipse cx="150" cy="255" rx="5" ry="3" fill="#3050ff"/>
<ellipse cx="105" cy="176" rx="14" ry="5" fill="#7bd67b" stroke="#000" stroke-width=".8"/><ellipse cx="120" cy="190" rx="6" ry="5" fill="#7bd67b" stroke="#000" stroke-width=".8"/><ellipse cx="103" cy="200" rx="7" ry="3" fill="#4a80ff" stroke="#000" stroke-width=".8"/><ellipse cx="96" cy="238" rx="10" ry="9" fill="#6aa0ff" stroke="#000" stroke-width=".8"/>
<polygon points="135,200 160,198 189,210 185,222 160,223 140,215" fill="#4a80ff" stroke="#000" stroke-width=".8"/>
<polygon points="180,220 230,230 370,330 430,380 409.7,391.2 399,401.5 356.3,408.4 320.6,422.2 302.8,435.9 277.9,432.5 256.5,425.6 231.6,422.2 213.8,418.7 199.5,415.3 185.2,435.9 171,425.6 156.7,408.4 149.6,387.8 156.7,367.1 163.9,346.5 160.3,325.8 153.2,312.1 149.6,291.4 153.2,270.8 167.4,253.6 178,236" fill="#1a30f0"/>
<polygon points="160,300 170,290 178,330 172,370 165,400 158,380 162,340" fill="#7fb0ff"/>
<polygon points="199.5,415.3 231.6,422.2 277.9,432.5 302.8,435.9 320.6,422.2 356.3,408.4 399,401.5 400,412 360,420 330,432 305,448 270,445 240,435 210,430" fill="#7fb0ff"/>
<polygon points="380,370 440,400 470,415 470,440 440,445 415,425 400,405" fill="#9cc0ff"/>
<polygon points="220.9,425.6 256.5,429 302.8,439.4 320.6,453.1 306.4,463.4 277.9,460 249.4,449.7 228,442.8" fill="#8fb8ff"/>
<polygon points="167.4,418.7 192.4,422.2 210.2,432.5 217.3,456.6 213.8,477.2 210.2,494.4 199.5,501.3 188.8,497.8 181.7,477.2 174.6,460 167.4,442.8" fill="#7bd67b"/>
<polygon points="320.6,411.8 356.3,408.4 399,401.5 413.3,411.8 420.4,436 427.5,449.7 409.7,446.3 391.9,432.5 370.5,429 349.1,425.6 320.6,425.6" fill="#7bd67b" stroke="#000" stroke-width=".8"/>
<polygon points="424,408.4 441.7,411.8 454.2,417 448.9,438.8 434.6,445.7 427.5,429" fill="#7bd67b" stroke="#000" stroke-width=".8"/>
<polygon points="263.6,439.4 277.9,442.8 295.7,463.4 313.5,473.8 309.9,484.1 292.1,480.6 277.9,466.9 267.2,453.1" fill="#7bd67b" stroke="#000" stroke-width=".8"/>
<ellipse cx="338" cy="458" rx="14" ry="8" fill="#6aa0ff" stroke="#000" stroke-width=".8"/><ellipse cx="338" cy="458" rx="6" ry="4" fill="#1a30f0"/>
<ellipse cx="385" cy="480" rx="14" ry="6" fill="#7bd67b" stroke="#000" stroke-width=".8"/><ellipse cx="390" cy="479" rx="5" ry="3" fill="#1a30f0"/>
<ellipse cx="352" cy="486" rx="16" ry="4.5" fill="#4a80ff" stroke="#000" stroke-width=".8"/>
<ellipse cx="453" cy="495.3" rx="9" ry="4" fill="#7bd67b" stroke="#000" stroke-width=".8"/>
<ellipse cx="107" cy="528" rx="10" ry="6" fill="#7bd67b" stroke="#000" stroke-width=".8"/>
<polygon points="205.9,263.9 217.3,253.6 215,235 365,330 350.9,345.8 342,360.2 350.9,372.3 334.9,379.2 313.5,379.2 306.4,382.6 293.9,389.5 286.8,403.2 270.8,410.1 249.4,412.5 228,403.2 213.8,392.9 197.7,386 187,374 182.4,353.4 184.5,332.7 186.3,315.5 191.7,291.4 198.8,277" fill="#ffe600"/>
<polygon points="210.2,270.8 219.1,258.8 222,245 358,335 342,346.5 331.3,360.2 320.6,365.4 299.3,370.6 285,377.4 277.9,391.2 263.6,398.1 249.4,399.8 231.6,394.6 213.8,384.3 199.5,374 194.2,356.8 194.2,332.7 195.9,305.2 201.3,284.6" fill="#ff9200"/>
<ellipse cx="230" cy="340" rx="14" ry="22" fill="#ffac00" opacity=".7"/>
<polygon points="250,312 276,297 295,294 312,310 312,338 300,346 295,360 268,364 256,352 246,332" fill="#ff6a00"/>
<polygon points="260.1,315.5 277.9,305.2 288.6,301.8 302.8,315.5 302.8,332.7 292.1,339.6 288.6,353.4 270.8,356.8 263.6,349.9 256.5,332.7 249.4,325.8" fill="#ee2a00" stroke="#000" stroke-width="1.1"/>
<ellipse cx="287" cy="314" rx="9" ry="7" fill="#c81400"/><ellipse cx="274" cy="340" rx="7" ry="10" fill="#c81400"/>
<polygon points="203,350 210,347 217,352 215,360 208,364 203,358" fill="#ff3300" stroke="#000"/>
<ellipse cx="178" cy="272.5" rx="14" ry="5" fill="#ffdd00" stroke="#000" stroke-width=".8"/><ellipse cx="144" cy="267.5" rx="9" ry="3.5" fill="#ffdd00" stroke="#000" stroke-width=".8"/><ellipse cx="183.5" cy="245" rx="5.5" ry="3.5" fill="#ffdd00" stroke="#000" stroke-width=".8"/>
<ellipse cx="135.4" cy="422.2" rx="18" ry="14" fill="#2a50ff"/><ellipse cx="134" cy="423" rx="12" ry="11" fill="#ffcc00"/><ellipse cx="134" cy="419" rx="9" ry="8" fill="#c82000" stroke="#000"/><ellipse cx="122" cy="428" rx="4" ry="3" fill="#ffcc00" stroke="#000" stroke-width=".8"/>
</g>
<use href="#cm"/>
<g class="ll"><text x="252.5" y="79.5">-6</text><text x="252.5" y="164">-8</text><text x="252.5" y="248.5">-10</text><text x="252.5" y="333">-12</text><text x="252.5" y="417.5">-14</text><text x="252.5" y="502">-16</text><text x="36.3" y="313">46</text><text x="114.9" y="313">48</text><text x="193.5" y="313">50</text><text x="272.1" y="313">52</text><text x="350.7" y="313">54</text><text x="429.3" y="313">56</text></g>
<rect x="495" y="40" width="9" height="507.4" fill="url(#gS)"/><use href="#tk"/>
<g class="cb"><text x="523" y="556.4">304</text><text x="523" y="505.7">292</text><text x="523" y="455">280</text><text x="523" y="404.2">268</text><text x="523" y="353.5">256</text><text x="523" y="302.8">244</text><text x="523" y="252.1">232</text><text x="523" y="201.4">220</text><text x="523" y="150.6">208</text><text x="523" y="99.9">196</text></g>
<text class="tt" x="37.5" y="66">VIRS T<tspan font-size="15" dy="5">B11</tspan><tspan dy="-5"> (K)</tspan></text>
<text class="pl" x="473" y="524">(g)</text>
</g>

<!-- ===== (h) ===== -->
<g transform="translate(590,1180)">
<use href="#cells" style="--mo:#0000ff;--mm:#ff4500;--mi:#ff4500;--k1:#0000ff;--k2:#ff4500;--k3:#ff4500;--k4:#ff4500"/>
<use href="#cm"/>
<g class="ll"><text x="252.5" y="79.5">-6</text><text x="252.5" y="164">-8</text><text x="252.5" y="248.5">-10</text><text x="252.5" y="333">-12</text><text x="252.5" y="417.5">-14</text><text x="252.5" y="502">-16</text><text x="36.3" y="313">46</text><text x="114.9" y="313">48</text><text x="193.5" y="313">50</text><text x="272.1" y="313">52</text><text x="350.7" y="313">54</text><text x="429.3" y="313">56</text></g>
<rect x="495.3" y="42" width="9" height="168.7" fill="#ff4500"/><rect x="495.3" y="210.7" width="9" height="169.3" fill="#0000ff"/><rect x="495.3" y="380" width="9" height="167.5" fill="#fff"/>
<rect x="495.3" y="42" width="9" height="505.5" fill="none" stroke="#333" stroke-width="1"/>
<path d="M504.3,42h2.5M504.3,210.7h2.5M504.3,380h2.5" stroke="#000"/>
<text class="cbl" x="507" y="50.5">Conv</text><text class="cbl" x="508" y="218.5">Strat</text><text class="cbl" x="508" y="388.3">N/A</text>
<text class="tt" x="36.5" y="66" textLength="174" lengthAdjust="spacingAndGlyphs">2A23 rain types</text>
<text class="pl" x="473" y="524">(h)</text>
</g>

<!-- ===== (i) ===== -->
<g transform="translate(1180,1180)">
<g fill="#e2e2e2"><rect x="170" y="380" width="4" height="3"/><rect x="185" y="400" width="3" height="3"/><rect x="160" y="395" width="3" height="3"/><rect x="200" y="415" width="4" height="3"/><rect x="215" y="430" width="3" height="3"/><rect x="245" y="445" width="4" height="3"/><rect x="255" y="470" width="3" height="3"/><rect x="270" y="490" width="4" height="3"/><rect x="300" y="510" width="3" height="3"/><rect x="320" y="520" width="4" height="3"/><rect x="240" y="500" width="3" height="3"/><rect x="190" y="470" width="3" height="3"/><rect x="150" y="460" width="3" height="3"/><rect x="235" y="470" width="3" height="3"/><rect x="350" y="528" width="3" height="3"/></g>
<use href="#cells" style="--mo:#2a40ff;--mm:#ffdd00;--mi:#ff8800;--k1:#a8a8a8;--k2:#7ddc7d;--k3:#d0d0d0;--k4:#3a6aff"/>
<use href="#cm"/>
<g class="ll"><text x="252.5" y="79.5">-6</text><text x="252.5" y="164">-8</text><text x="252.5" y="248.5">-10</text><text x="252.5" y="333">-12</text><text x="252.5" y="417.5">-14</text><text x="252.5" y="502">-16</text><text x="36.3" y="313">46</text><text x="114.9" y="313">48</text><text x="193.5" y="313">50</text><text x="272.1" y="313">52</text><text x="350.7" y="313">54</text><text x="429.3" y="313">56</text></g>
<rect x="495" y="40" width="9" height="507.4" fill="url(#gS)"/><use href="#tk"/>
<g class="cb"><text x="531" y="556.4">0.0</text><text x="531" y="505.7">2.0</text><text x="531" y="455">4.0</text><text x="531" y="404.2">6.0</text><text x="531" y="353.5">8.0</text><text x="531" y="302.8">10.0</text><text x="531" y="252.1">12.0</text><text x="531" y="201.4">14.0</text><text x="531" y="150.6">16.0</text><text x="531" y="99.9">18.0</text></g>
<text class="tt" x="36.5" y="66" textLength="259" lengthAdjust="spacingAndGlyphs">2A23 storm height (km)</text>
<text class="pl" x="473" y="524">(i)</text>
</g>
</svg>
</body></html>
